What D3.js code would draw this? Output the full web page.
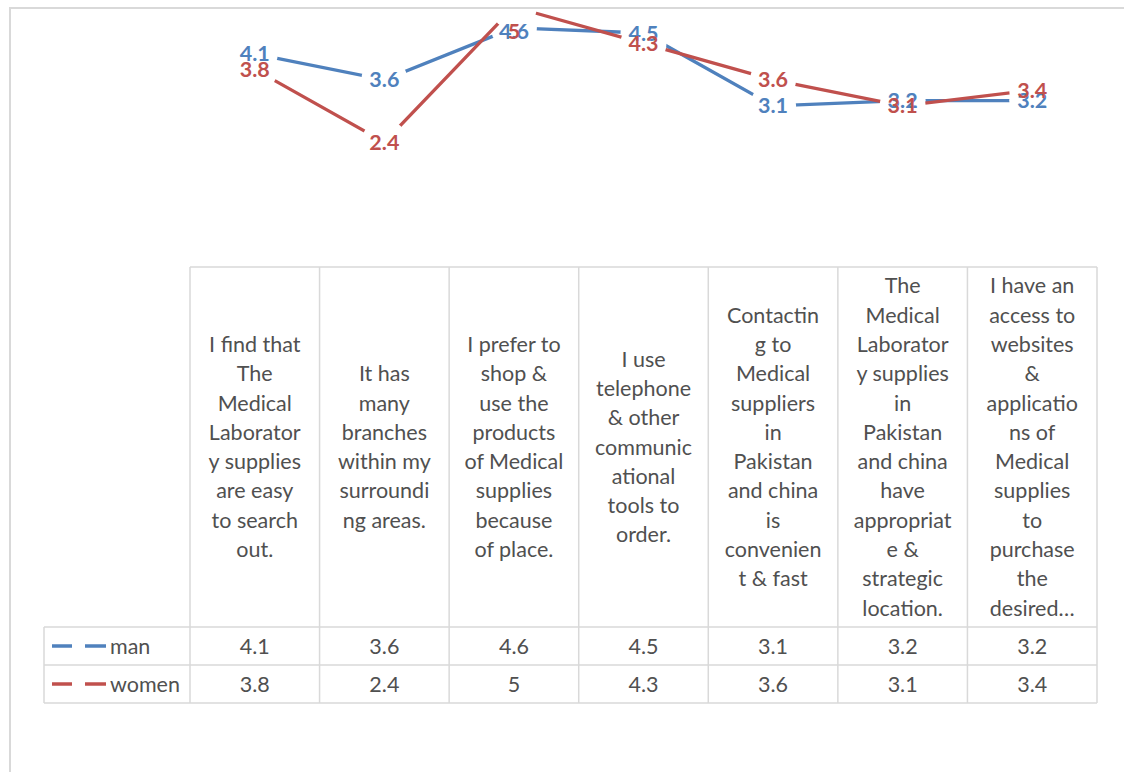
<!DOCTYPE html>
<html><head><meta charset="utf-8">
<script src="https://cdn.jsdelivr.net/npm/d3@7"></script>
<style>body{margin:0;background:#fff;}svg{display:block;}</style>
</head><body>
<script>
const categories = [
  ["I find that","The","Medical","Laborator","y supplies","are easy","to search","out."],
  ["It has","many","branches","within my","surroundi","ng areas."],
  ["I prefer to","shop &","use the","products","of Medical","supplies","because","of place."],
  ["I use","telephone","& other","communic","ational","tools to","order."],
  ["Contactin","g to","Medical","suppliers","in","Pakistan","and china","is","convenien","t & fast"],
  ["The","Medical","Laborator","y supplies","in","Pakistan","and china","have","appropriat","e &","strategic","location."],
  ["I have an","access to","websites","&","applicatio","ns of","Medical","supplies","to","purchase","the","desired…"]
];
const seriesNames = ["man","women"];
const manValues = [4.1,3.6,4.6,4.5,3.1,3.2,3.2];
const womenValues = [3.8,2.4,5,4.3,3.6,3.1,3.4];
const seriesColors = ["#4F81BD","#C0504D"];
const yDomain = [0,5];

const W=1124,H=772;
const svg=d3.select("body").append("svg").attr("width",W).attr("height",H);

const tableLeft=44, colLeft=190, colRight=1097, headTop=267, headBottom=627, rowH=38;
const x=d3.scaleBand().domain(d3.range(categories.length)).range([colLeft,colRight]).padding(0);
const y=d3.scaleLinear().domain(yDomain).range([headTop,7]);
const cx=i=>x(i)+x.bandwidth()/2;

const series=[manValues,womenValues];
const line=d3.line().x((d,i)=>cx(i)).y(d=>y(d));
const g=svg.append("g");
series.forEach((vals,si)=>{
  g.append("path").datum(vals).attr("d",line).attr("fill","none")
    .attr("stroke",seriesColors[si]).attr("stroke-width",3.3);
  g.selectAll(null).data(vals).enter().append("circle")
    .attr("cx",(d,i)=>cx(i)).attr("cy",d=>y(d)).attr("r",23).attr("fill","#fff");
});
series.forEach((vals,si)=>{
  g.selectAll(null).data(vals).enter().append("text")
    .attr("x",(d,i)=>cx(i)).attr("y",d=>Math.max(y(d),31))
    .attr("dy","0.35em").attr("text-anchor","middle")
    .attr("font-family","Lato, 'Open Sans', sans-serif").attr("font-weight","bold").attr("font-size",21.5)
    .attr("fill",seriesColors[si]).text(d=>d);
});

// chart border (drawn over plot)
svg.append("rect").attr("x",0).attr("y",0).attr("width",W).attr("height",7).attr("fill","#fff");
svg.append("path").attr("d","M10,772 L10,8 L1124,8").attr("fill","none").attr("stroke","#D9D9D9").attr("stroke-width",2);

// table
const grid="#D9D9D9";
const tg=svg.append("g");
const rowsBottom=headBottom+rowH*2;
tg.append("line").attr("x1",colLeft).attr("x2",colRight).attr("y1",headTop).attr("y2",headTop).attr("stroke",grid).attr("stroke-width",1.5);
[0,1,2].forEach(r=>{
  tg.append("line").attr("x1",tableLeft).attr("x2",colRight).attr("y1",headBottom+r*rowH).attr("y2",headBottom+r*rowH).attr("stroke",grid).attr("stroke-width",1.5);
});
d3.range(categories.length+1).forEach(i=>{
  const xx=i<categories.length?x(i):colRight;
  tg.append("line").attr("x1",xx).attr("x2",xx).attr("y1",headTop).attr("y2",rowsBottom).attr("stroke",grid).attr("stroke-width",1.5);
});
tg.append("line").attr("x1",tableLeft).attr("x2",tableLeft).attr("y1",headBottom).attr("y2",rowsBottom).attr("stroke",grid).attr("stroke-width",1.5);

const font="Lato, 'Open Sans', sans-serif", tcol="#505050", fs=21.5, lh=29.3;
categories.forEach((lines,i)=>{
  const mid=(headTop+headBottom)/2;
  const t=tg.append("text").attr("text-anchor","middle").attr("font-family",font).attr("font-size",fs).attr("fill",tcol);
  lines.forEach((ln,j)=>{
    t.append("tspan").attr("x",cx(i)).attr("y",mid+(j-(lines.length-1)/2)*lh).attr("dy","0.35em").text(ln);
  });
});
series.forEach((vals,si)=>{
  const ry=headBottom+si*rowH+rowH/2;
  tg.selectAll(null).data(vals).enter().append("text")
    .attr("x",(d,i)=>cx(i)).attr("y",ry).attr("dy","0.35em").attr("text-anchor","middle")
    .attr("font-family",font).attr("font-size",fs).attr("fill",tcol).text(d=>d);
  tg.append("line").attr("x1",52).attr("x2",106).attr("y1",ry).attr("y2",ry).attr("stroke",seriesColors[si]).attr("stroke-width",3.3);
  tg.append("rect").attr("x",72).attr("y",ry-4).attr("width",13).attr("height",8).attr("fill","#fff");
  tg.append("text").attr("x",110).attr("y",ry).attr("dy","0.35em").attr("font-family",font).attr("font-size",fs).attr("fill",tcol).text(seriesNames[si]);
});
</script>
</body></html>
